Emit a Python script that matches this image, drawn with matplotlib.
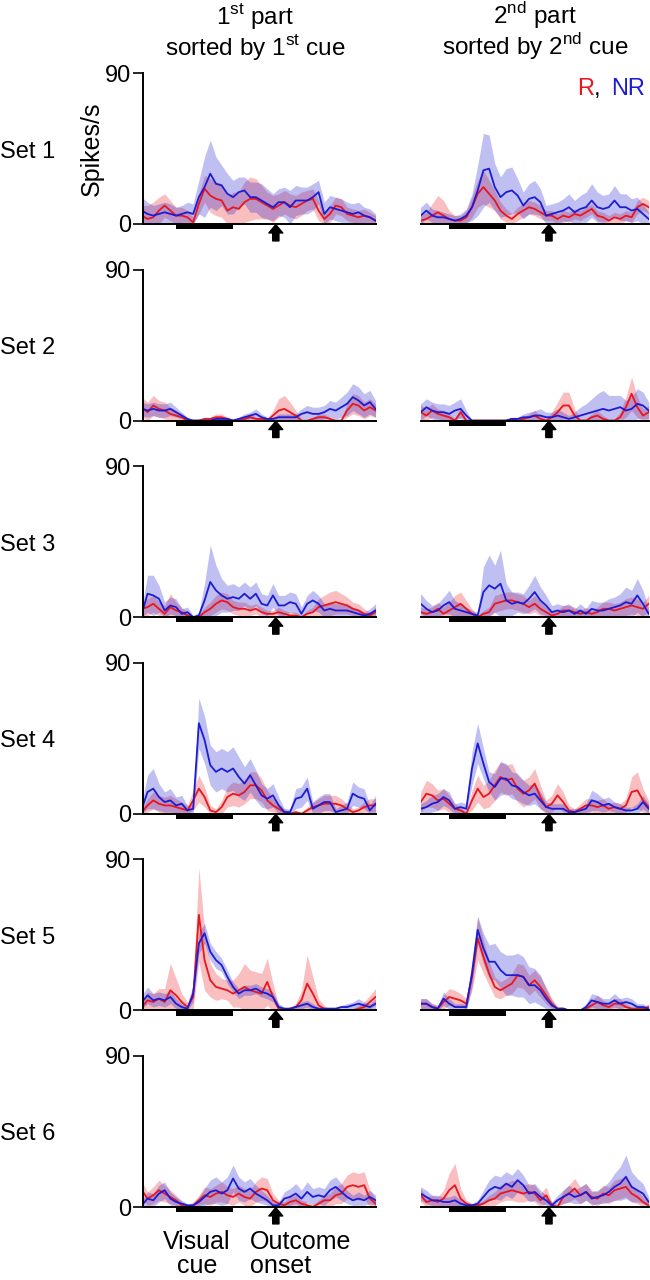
import numpy as np
import matplotlib
matplotlib.use("Agg")
import matplotlib.pyplot as plt
from matplotlib.patches import Rectangle

plt.rcParams["font.family"] = ["Liberation Sans", "DejaVu Sans"]
plt.rcParams["mathtext.fontset"] = "custom"
plt.rcParams["mathtext.rm"] = "Liberation Sans"

# time grid (s, relative to visual cue onset), 0.1 s bins
t = np.linspace(-0.6, 3.5, 42)

cue_on, cue_off = 0.0, 1.0
outcome_onset = 1.75

set_labels = ["Set 1", "Set 2", "Set 3", "Set 4", "Set 5", "Set 6"]

# mean firing rate (spikes/s) and SEM, R = reward, NR = no reward
set1_left_nr = [8,6,5,6,7,6,5,6,7,6,16,22,30,24,23,18,16,19,20,16,16,14,12,10,13,13,10,14,14,14,16,19,6,10,9,8,7,6,7,5,4,2]
set1_left_nr_sem = [8,7,6,6,6,6,5,5,6,6,10,18,20,16,12,12,10,9,8,9,9,10,9,8,8,9,10,9,8,8,8,7,7,7,7,7,6,6,6,5,5,4]
set1_left_r = [5,3,4,8,11,8,5,5,4,1,12,21,17,15,14,8,10,9,13,15,15,13,11,9,11,13,11,10,12,14,15,8,3,6,11,10,6,5,4,5,4,2]
set1_left_r_sem = [6,8,9,8,7,6,5,5,4,3,6,8,10,10,10,9,9,10,12,13,12,10,8,8,7,7,7,7,7,6,6,6,4,5,5,5,4,4,4,4,3,3]
set1_right_nr = [5,5,8,5,4,4,3,2,3,5,10,20,32,33,22,16,19,20,17,11,15,16,13,5,6,7,8,10,7,9,10,14,10,9,10,14,10,10,8,9,6,3]
set1_right_nr_sem = [5,5,5,4,4,3,3,3,3,4,8,15,22,20,14,12,14,14,10,8,9,10,8,6,6,6,7,8,7,8,9,10,9,8,8,9,8,8,7,7,6,4]
set1_right_r = [2,2,3,5,7,5,3,2,2,4,10,18,22,18,14,8,5,3,6,8,10,9,7,5,5,3,5,4,6,5,7,9,5,4,2,4,3,5,4,10,12,10]
set1_right_r_sem = [3,3,4,7,10,9,5,3,3,4,6,8,10,8,6,5,4,3,4,4,4,4,4,3,3,3,3,3,3,3,3,3,3,3,3,3,3,3,3,4,4,4]

set2_left_nr = [7,6,7,6,6,7,5,3,1,0,0,0,0,1,1,1,0,1,2,3,4,2,1,1,2,2,2,2,4,5,4,4,5,7,6,8,10,14,12,9,11,7]
set2_left_nr_sem = [4,4,4,4,4,4,3,2,1,0,0,0,0,1,1,1,1,1,2,2,3,2,1,1,2,2,2,2,3,4,4,4,4,5,5,6,7,8,8,7,7,5]
set2_left_r = [8,5,9,7,6,4,3,2,0,0,0,1,1,2,2,1,0,0,1,2,1,1,0,3,6,7,5,3,0,0,1,2,2,1,0,0,6,10,9,6,8,6]
set2_left_r_sem = [6,6,6,5,5,4,3,2,1,0,0,1,1,2,2,1,0,0,1,2,1,1,1,3,7,8,6,3,1,0,1,2,2,1,0,1,4,6,6,5,5,4]
set2_right_nr = [5,5,8,6,5,5,4,6,7,3,0,0,0,0,0,0,0,1,1,2,2,3,3,2,2,3,2,1,2,3,4,5,6,7,6,7,8,6,7,10,9,6]
set2_right_nr_sem = [5,5,5,5,5,5,5,5,6,3,0,0,0,0,0,0,0,1,1,2,3,3,4,3,3,4,3,2,3,5,6,8,10,11,9,8,7,6,7,9,8,5]
set2_right_r = [5,5,3,6,4,3,2,0,5,0,0,0,0,0,0,0,0,1,0,1,2,3,1,0,2,5,9,9,3,0,0,2,3,1,0,0,2,8,16,8,3,5]
set2_right_r_sem = [4,4,4,4,3,3,2,1,3,0,0,0,0,0,0,0,0,1,0,1,2,3,2,1,3,6,8,8,4,1,1,2,3,2,1,1,3,6,10,6,4,4]

set3_left_nr = [2,14,13,11,4,7,6,2,3,0,1,10,21,16,13,11,12,11,14,11,14,8,7,13,7,7,9,8,2,8,10,8,4,5,4,4,4,3,2,1,2,4]
set3_left_nr_sem = [4,11,12,8,5,5,5,3,3,1,2,10,22,15,10,8,8,7,7,7,7,6,6,7,6,6,6,6,4,5,6,5,4,4,4,4,4,3,3,2,3,4]
set3_left_r = [5,6,8,5,2,6,4,3,1,0,0,3,5,8,10,9,6,5,5,4,5,3,2,2,3,2,1,1,0,2,3,6,7,8,9,8,7,5,4,2,1,3]
set3_left_r_sem = [4,5,5,4,5,8,5,3,2,1,1,3,4,5,5,5,4,4,4,3,3,3,2,2,3,2,2,2,1,2,3,5,6,7,7,6,5,4,4,3,2,3]
set3_right_nr = [8,8,5,3,4,7,9,5,4,3,2,1,15,19,17,20,10,8,9,8,11,15,10,7,3,4,3,4,2,4,2,5,4,4,5,6,7,9,8,13,8,2]
set3_right_nr_sem = [6,6,5,4,4,5,7,5,4,3,2,2,15,18,14,20,10,7,6,6,8,10,8,6,4,4,4,4,3,4,3,5,5,5,6,6,7,9,8,10,8,3]
set3_right_r = [3,3,2,3,5,2,4,6,8,5,2,0,2,3,8,9,10,10,9,8,6,8,5,3,1,2,4,4,3,2,3,2,3,5,5,4,5,6,7,6,5,8]
set3_right_r_sem = [3,3,3,3,4,4,5,7,7,5,3,1,2,3,5,5,5,5,5,5,4,5,4,3,2,2,3,3,3,2,3,2,3,4,4,4,4,5,5,5,4,5]

set4_left_nr = [3,13,15,10,7,8,5,6,2,3,54,44,29,25,27,25,27,22,18,23,17,11,9,11,5,1,1,9,10,15,3,5,7,7,1,2,3,12,10,9,2,6]
set4_left_nr_sem = [4,10,12,8,6,7,5,5,3,3,15,14,12,12,12,12,13,12,10,10,9,7,6,7,5,2,2,6,6,7,4,5,5,5,2,3,4,7,6,6,3,5]
set4_left_r = [1,5,8,6,5,5,4,3,2,8,15,10,2,1,4,10,12,11,13,17,17,14,8,5,3,1,0,1,0,2,4,5,6,6,6,5,3,1,2,4,5,5]
set4_left_r_sem = [2,4,5,5,5,6,5,4,3,6,8,6,3,2,4,6,7,7,7,8,8,7,6,4,3,2,1,1,1,2,3,4,5,5,5,4,3,2,2,3,4,4]
set4_right_nr = [3,3,4,6,7,10,8,3,4,3,27,42,30,19,16,21,21,17,16,13,11,12,8,4,3,3,3,1,1,2,3,8,7,5,6,4,3,2,2,3,7,3]
set4_right_nr_sem = [3,3,4,5,5,5,5,3,3,3,10,12,9,6,8,10,9,8,8,7,6,6,5,3,3,3,3,2,2,2,3,6,5,4,4,3,3,2,2,3,4,3]
set4_right_r = [7,7,12,11,8,9,6,3,2,0,8,15,10,12,17,22,20,21,15,12,14,18,10,4,6,11,7,2,1,3,5,5,4,5,3,4,3,5,13,14,8,4]
set4_right_r_sem = [6,6,8,7,6,6,5,3,2,1,6,8,7,8,9,9,9,9,8,8,8,9,7,4,5,7,6,3,2,3,4,4,4,4,3,3,3,4,9,11,7,4]

set5_left_nr = [5,9,6,7,6,8,4,2,1,10,40,46,35,30,27,20,14,10,12,12,13,11,10,8,2,1,1,2,3,4,2,1,1,1,1,2,2,3,4,3,2,4]
set5_left_nr_sem = [4,5,4,4,4,4,3,2,1,5,6,6,5,5,4,4,3,3,3,3,3,3,3,3,2,1,1,1,2,2,2,1,1,1,1,1,2,2,3,2,2,3]
set5_left_r = [2,6,5,7,5,12,9,5,2,8,57,30,18,14,13,12,10,12,14,12,11,10,17,8,1,0,1,2,6,16,10,3,1,0,0,0,0,0,1,2,5,8]
set5_left_r_sem = [3,5,5,6,8,16,10,5,3,7,28,18,10,8,6,6,8,10,14,12,12,12,14,8,2,1,1,2,6,17,10,4,2,1,1,1,1,1,2,3,4,5]
set5_right_nr = [4,4,4,2,1,7,4,2,2,2,22,48,37,29,29,24,21,21,21,20,15,15,12,7,3,1,1,0,0,0,2,6,5,4,4,6,4,5,4,2,2,1]
set5_right_nr_sem = [3,3,3,2,2,4,3,2,2,2,8,8,9,10,11,11,12,12,13,12,11,10,9,6,3,1,1,0,0,0,2,4,4,3,3,4,3,3,3,2,2,1]
set5_right_r = [4,4,4,2,1,5,8,7,6,4,20,43,32,22,14,12,14,16,21,20,15,18,14,9,4,1,1,0,0,0,1,3,5,3,2,4,4,2,1,1,1,2]
set5_right_r_sem = [3,3,3,2,2,4,5,5,4,3,8,13,10,7,6,5,5,6,7,7,6,6,6,5,3,1,1,0,0,0,1,3,4,3,2,3,3,2,1,1,1,2]

set6_left_nr = [1,5,4,8,10,5,3,2,1,1,3,6,9,10,8,10,17,11,9,11,8,6,4,1,1,5,6,8,5,9,6,7,6,10,12,9,6,4,5,4,6,4]
set6_left_nr_sem = [3,4,4,5,5,4,3,2,1,1,3,5,7,8,7,8,8,7,6,6,5,4,3,2,2,4,5,6,5,6,5,5,5,6,6,5,4,3,4,3,4,3]
set6_left_r = [10,5,7,10,8,6,4,1,0,1,4,7,6,8,9,7,6,8,6,5,9,11,10,4,2,1,3,4,2,1,0,2,4,4,7,8,12,13,12,13,5,2]
set6_left_r_sem = [5,4,5,6,5,4,3,2,1,2,3,5,5,5,6,5,5,5,5,5,6,7,7,4,2,2,3,3,2,2,1,2,3,4,5,6,7,8,8,8,5,3]
set6_right_nr = [8,8,6,4,4,3,3,4,2,1,1,2,6,10,12,11,14,12,16,13,8,9,6,4,1,4,6,8,6,7,9,5,6,7,9,12,14,18,12,10,8,3]
set6_right_nr_sem = [4,4,4,3,3,3,3,3,2,1,1,2,4,6,7,7,7,7,7,6,5,5,4,3,2,3,4,5,4,5,5,4,4,5,6,8,10,13,9,7,6,3]
set6_right_r = [7,7,3,4,3,5,10,13,5,2,1,1,2,4,5,8,9,10,9,8,9,8,4,7,1,0,6,8,11,7,9,6,5,8,7,10,11,12,8,6,3,1]
set6_right_r_sem = [4,4,3,3,3,5,10,13,6,2,1,1,2,3,4,5,5,6,6,5,5,5,4,5,2,1,4,5,6,5,5,4,4,5,5,6,6,6,5,4,3,2]

panels = [
    [(set1_left_r, set1_left_r_sem, set1_left_nr, set1_left_nr_sem),
     (set1_right_r, set1_right_r_sem, set1_right_nr, set1_right_nr_sem)],
    [(set2_left_r, set2_left_r_sem, set2_left_nr, set2_left_nr_sem),
     (set2_right_r, set2_right_r_sem, set2_right_nr, set2_right_nr_sem)],
    [(set3_left_r, set3_left_r_sem, set3_left_nr, set3_left_nr_sem),
     (set3_right_r, set3_right_r_sem, set3_right_nr, set3_right_nr_sem)],
    [(set4_left_r, set4_left_r_sem, set4_left_nr, set4_left_nr_sem),
     (set4_right_r, set4_right_r_sem, set4_right_nr, set4_right_nr_sem)],
    [(set5_left_r, set5_left_r_sem, set5_left_nr, set5_left_nr_sem),
     (set5_right_r, set5_right_r_sem, set5_right_nr, set5_right_nr_sem)],
    [(set6_left_r, set6_left_r_sem, set6_left_nr, set6_left_nr_sem),
     (set6_right_r, set6_right_r_sem, set6_right_nr, set6_right_nr_sem)],
]

RED = "#e8161e"
BLUE = "#1c1cd2"
W, H = 650, 1280
PX_PER_S = 57.0


def add_px_axes(fig, left, top, width, height):
    return fig.add_axes([left / W, 1 - (top + height) / H, width / W, height / H])


def draw_band(ax, mean, sem, color):
    mean = np.asarray(mean, dtype=float)
    sem = np.asarray(sem, dtype=float)
    lo = np.clip(mean - sem, 0, None)
    hi = mean + sem
    ax.fill_between(t, lo, hi, color=color, alpha=0.28, linewidth=0)


def style_panel(ax, show_y):
    ax.set_ylim(0, 90)
    for side in ["top", "right"]:
        ax.spines[side].set_visible(False)
    ax.spines["bottom"].set_linewidth(1.4)
    ax.spines["left"].set_linewidth(1.4)
    ax.set_xticks([])
    if show_y:
        ax.set_yticks([0, 90])
        ax.tick_params(axis="y", length=7, width=1.2, pad=1.5, labelsize=17)
    else:
        ax.spines["left"].set_visible(False)
        ax.set_yticks([])
    # visual cue bar under the axis
    ax.add_patch(Rectangle((cue_on, -0.035), cue_off - cue_on, 0.035,
                           transform=ax.get_xaxis_transform(), clip_on=False,
                           color="black", linewidth=0))
    # outcome arrow
    ax.annotate("", xy=(outcome_onset, -0.004), xytext=(outcome_onset, -0.112),
                xycoords=ax.get_xaxis_transform(),
                textcoords=ax.get_xaxis_transform(),
                arrowprops=dict(arrowstyle="simple,head_length=0.6,head_width=1.0,tail_width=0.45",
                                fc="black", ec="black", shrinkA=0, shrinkB=0,
                                mutation_scale=10),
                annotation_clip=False)


fig = plt.figure(figsize=(W / 100, H / 100), dpi=100)

row_top0 = 73.0
row_step = 196.6
row_h = 151.0

for i, (left_data, right_data) in enumerate(panels):
    top = row_top0 + row_step * i
    ax_l = add_px_axes(fig, 143, top, 4.08 * PX_PER_S, row_h)
    ax_r = add_px_axes(fig, 420.7, top, 4.0 * PX_PER_S, row_h)
    for ax, data, xlim, show_y in [(ax_l, left_data, (-0.58, 3.5), True),
                                   (ax_r, right_data, (-0.5, 3.5), False)]:
        r, r_sem, nr, nr_sem = data
        draw_band(ax, r, r_sem, RED)
        draw_band(ax, nr, nr_sem, BLUE)
        ax.plot(t, r, color=RED, linewidth=1.3)
        ax.plot(t, nr, color=BLUE, linewidth=1.3)
        ax.set_xlim(*xlim)
        style_panel(ax, show_y)
    fig.text(0.0, 1 - (top + row_h / 2 + 3) / H, set_labels[i],
             fontsize=17, ha="left", va="center")

fig.text(92 / W, 1 - 149 / H, "Spikes/s", fontsize=18,
         rotation=90, ha="center", va="center")

# legend: "R, NR" in series colours
fig.text(577 / W, 1 - 89 / H, "R", color=RED, fontsize=17, ha="left", va="center")
fig.text(594 / W, 1 - 89 / H, ",", color="black", fontsize=17, ha="left", va="center")
fig.text(645 / W, 1 - 89 / H, "NR", color=BLUE, fontsize=17, ha="right", va="center")

# column titles
fig.text(255 / W, 1 - 16 / H, r"1$^{\mathrm{st}}$ part", fontsize=17.5, ha="center", va="center")
fig.text(255 / W, 1 - 47 / H, r"sorted by 1$^{\mathrm{st}}$ cue", fontsize=17.5, ha="center", va="center")
fig.text(535 / W, 1 - 16 / H, r"2$^{\mathrm{nd}}$ part", fontsize=17.5, ha="center", va="center")
fig.text(535 / W, 1 - 47 / H, r"sorted by 2$^{\mathrm{nd}}$ cue", fontsize=17.5, ha="center", va="center")

# event labels under the bottom row
fig.text(197 / W, 1 - 1254 / H, "Visual\ncue", fontsize=18, ha="center", va="center",
         linespacing=1.05)
fig.text(250 / W, 1 - 1254 / H, "Outcome\nonset", fontsize=18, ha="left", va="center",
         linespacing=1.05)

fig.savefig("out.png", dpi=100)
